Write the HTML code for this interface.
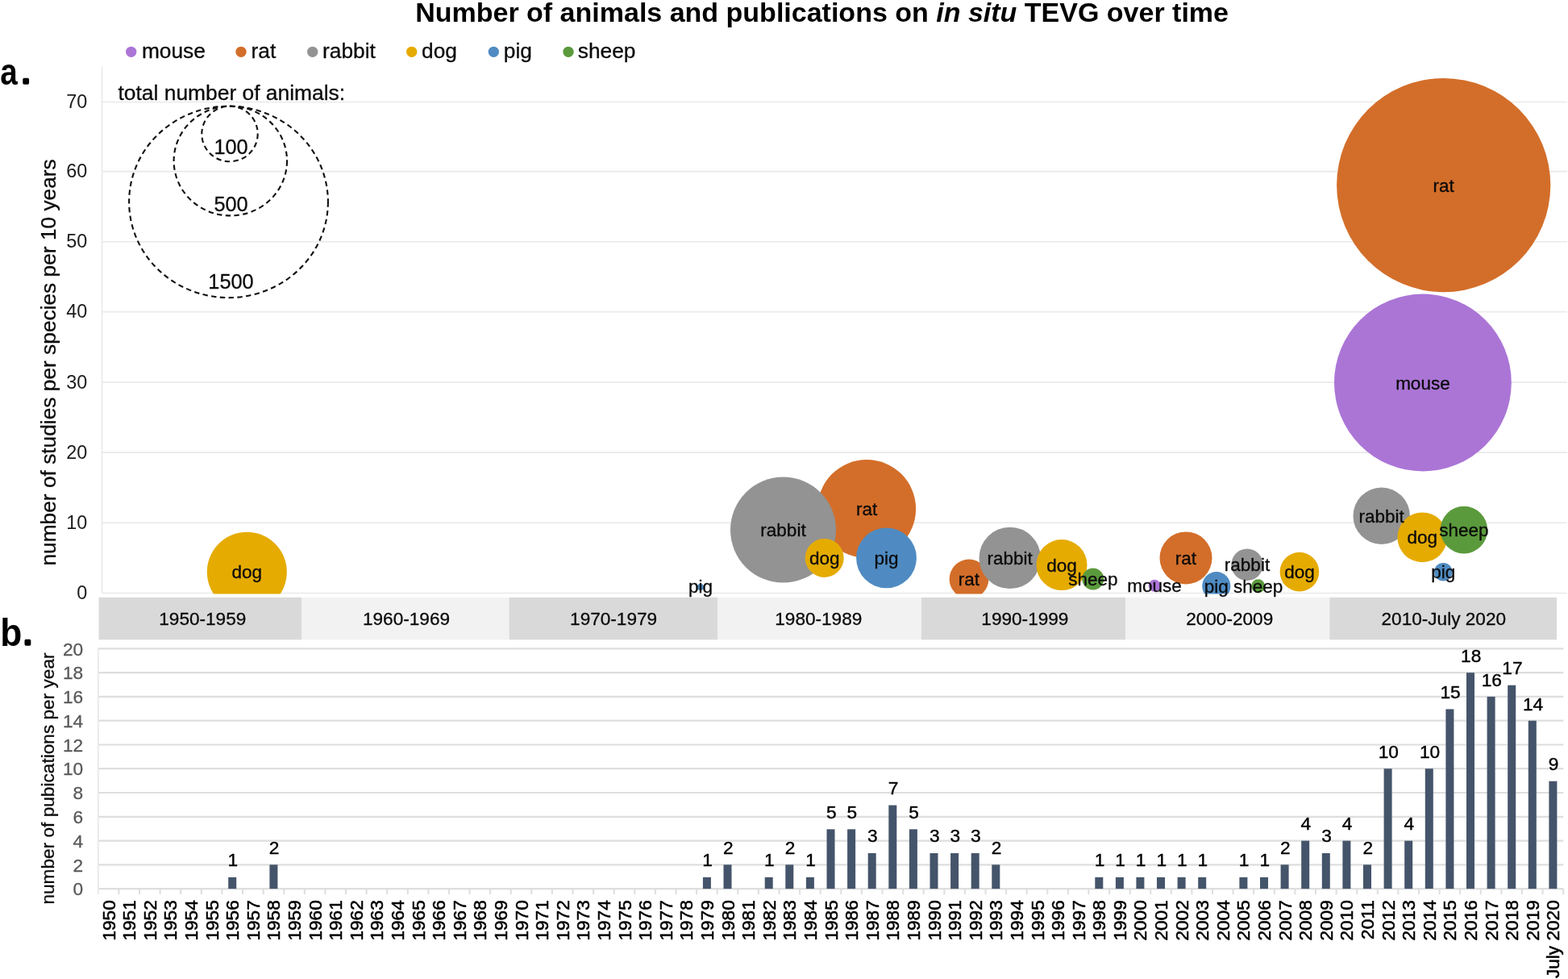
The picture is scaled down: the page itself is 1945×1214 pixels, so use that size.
<!DOCTYPE html>
<html lang="en"><head><meta charset="utf-8"><title>Number of animals and publications on in situ TEVG over time</title>
<style>html,body{margin:0;padding:0;background:#fff}body{width:1945px;height:1214px;overflow:hidden}svg{display:block}</style>
</head><body>
<svg width="1945" height="1214" viewBox="0 0 1945 1214" font-family='"Liberation Sans", Arial, Helvetica, sans-serif'>
<style>text{stroke-width:0.3px;stroke-linejoin:round}.k{fill:#0a0a0a;stroke:#0a0a0a}.t{fill:#1c1c1c;stroke:none}.y{fill:#000;stroke:#000;stroke-width:0.55px}.d{fill:#000;stroke:#000;stroke-width:0.4px}.g{fill:#595959;stroke:#595959;stroke-width:0.3px}.b{fill:#000;stroke:none}</style>
<rect width="1945" height="1214" fill="#fff"/>
<defs><clipPath id="pc"><rect x="120" y="60" width="1825" height="676.5"/></clipPath></defs>
<text x="1019.6" y="27.3" font-size="34" font-weight="bold" text-anchor="middle" class="b">Number of animals and publications on <tspan font-style="italic">in situ</tspan> TEVG over time</text>
<circle cx="162.7" cy="64.3" r="6.65" fill="#AB75D6"/>
<text x="175.9" y="72" font-size="26.3" class="k">mouse</text>
<circle cx="299" cy="64.3" r="6.65" fill="#D36E2A"/>
<text x="311.5" y="72" font-size="26.3" class="k">rat</text>
<circle cx="387.7" cy="64.3" r="6.65" fill="#939393"/>
<text x="400" y="72" font-size="26.3" class="k">rabbit</text>
<circle cx="510.7" cy="64.3" r="6.65" fill="#E5AB00"/>
<text x="523" y="72" font-size="26.3" class="k">dog</text>
<circle cx="612.3" cy="64.3" r="6.65" fill="#4F8BC2"/>
<text x="624.8" y="72" font-size="26.3" class="k">pig</text>
<circle cx="705" cy="64.3" r="6.65" fill="#5B9A3C"/>
<text x="716.8" y="72" font-size="26.3" class="k">sheep</text>
<text x="0.3" y="104.6" font-size="46" font-weight="bold" class="b"><tspan textLength="21.48" lengthAdjust="spacingAndGlyphs">a</tspan><tspan x="28.1" y="103.3" font-size="30" style="fill:#000;stroke:#000;stroke-width:3.6px">.</tspan></text>
<text x="0.3" y="800.6" font-size="47.5" font-weight="bold" class="b"><tspan textLength="26.99" lengthAdjust="spacingAndGlyphs">b</tspan><tspan x="30.3" y="799.3" font-size="30" style="fill:#000;stroke:#000;stroke-width:3.6px">.</tspan></text>
<line x1="126.5" x2="1943.8" y1="735.50" y2="735.50" stroke="#E9E9E9" stroke-width="1.6"/>
<text x="108.3" y="743.0" font-size="23.4" text-anchor="end" class="t">0</text>
<line x1="126.5" x2="1943.8" y1="648.30" y2="648.30" stroke="#E9E9E9" stroke-width="1.6"/>
<text x="108.3" y="655.8" font-size="23.4" text-anchor="end" class="t">10</text>
<line x1="126.5" x2="1943.8" y1="561.10" y2="561.10" stroke="#E9E9E9" stroke-width="1.6"/>
<text x="108.3" y="568.6" font-size="23.4" text-anchor="end" class="t">20</text>
<line x1="126.5" x2="1943.8" y1="474.10" y2="474.10" stroke="#E9E9E9" stroke-width="1.6"/>
<text x="108.3" y="481.6" font-size="23.4" text-anchor="end" class="t">30</text>
<line x1="126.5" x2="1943.8" y1="386.80" y2="386.80" stroke="#E9E9E9" stroke-width="1.6"/>
<text x="108.3" y="394.3" font-size="23.4" text-anchor="end" class="t">40</text>
<line x1="126.5" x2="1943.8" y1="299.80" y2="299.80" stroke="#E9E9E9" stroke-width="1.6"/>
<text x="108.3" y="307.3" font-size="23.4" text-anchor="end" class="t">50</text>
<line x1="126.5" x2="1943.8" y1="212.60" y2="212.60" stroke="#E9E9E9" stroke-width="1.6"/>
<text x="108.3" y="220.1" font-size="23.4" text-anchor="end" class="t">60</text>
<line x1="126.5" x2="1943.8" y1="126.45" y2="126.45" stroke="#E9E9E9" stroke-width="1.6"/>
<text x="108.3" y="133.9" font-size="23.4" text-anchor="end" class="t">70</text>
<line x1="126.5" x2="126.5" y1="83" y2="735.4" stroke="#E9E9E9" stroke-width="1.6"/>
<text transform="translate(69.3,449.4) rotate(-90)" font-size="26.3" text-anchor="middle" class="k">number of studies per species per 10 years</text>
<text x="146.5" y="123.8" font-size="26.4" class="k">total number of animals:</text>
<ellipse cx="285" cy="166" rx="34.7" ry="34.3" fill="none" stroke="#111" stroke-width="2.1" stroke-dasharray="6.4 4.4"/>
<ellipse cx="285.8" cy="199.5" rx="70.2" ry="67.9" fill="none" stroke="#111" stroke-width="2.1" stroke-dasharray="6.4 4.4"/>
<ellipse cx="283.5" cy="250.4" rx="123.4" ry="118.7" fill="none" stroke="#111" stroke-width="2.1" stroke-dasharray="6.4 4.4"/>
<text x="286.5" y="190.5" font-size="25.3" text-anchor="middle" class="k">100</text>
<text x="286.5" y="261.8" font-size="25.3" text-anchor="middle" class="k">500</text>
<text x="286.5" y="358" font-size="25.3" text-anchor="middle" class="k">1500</text>
<g clip-path="url(#pc)">
<circle cx="1075.1" cy="631.0" r="61" fill="#D36E2A"/>
<circle cx="1202.0" cy="718.0" r="24.4" fill="#D36E2A"/>
<circle cx="1471.0" cy="691.9" r="32.5" fill="#D36E2A"/>
<circle cx="1790.7" cy="229.6" r="132.6" fill="#D36E2A"/>
<circle cx="1432.1" cy="726.3" r="7.5" fill="#AB75D6"/>
<circle cx="1764.9" cy="474.5" r="109.9" fill="#AB75D6"/>
<circle cx="971.5" cy="657.1" r="65.5" fill="#939393"/>
<circle cx="1252.7" cy="691.9" r="38.2" fill="#939393"/>
<circle cx="1547" cy="700.3" r="19.7" fill="#939393"/>
<circle cx="1713.7" cy="639.7" r="35.2" fill="#939393"/>
<circle cx="306.3" cy="709.3" r="49.5" fill="#E5AB00"/>
<circle cx="1022.7" cy="691.9" r="24" fill="#E5AB00"/>
<circle cx="1317.0" cy="700.6" r="31.5" fill="#E5AB00"/>
<circle cx="1611.9" cy="709.1" r="24.3" fill="#E5AB00"/>
<circle cx="1764.3" cy="666.3" r="30.9" fill="#E5AB00"/>
<circle cx="868.9" cy="728.1" r="4.1" fill="#4F8BC2"/>
<circle cx="1099.5" cy="691.9" r="37.4" fill="#4F8BC2"/>
<circle cx="1508.8" cy="726.7" r="17.6" fill="#4F8BC2"/>
<circle cx="1790.3" cy="709.3" r="11.3" fill="#4F8BC2"/>
<circle cx="1355.8" cy="718.0" r="13.5" fill="#5B9A3C"/>
<circle cx="1560.6" cy="726.7" r="8.5" fill="#5B9A3C"/>
<circle cx="1815.9" cy="657.1" r="29.3" fill="#5B9A3C"/>
</g>
<text x="1075.1" y="639.0" font-size="22.5" text-anchor="middle" class="k">rat</text>
<text x="1202.0" y="726.0" font-size="22.5" text-anchor="middle" class="k">rat</text>
<text x="1471.0" y="699.9" font-size="22.5" text-anchor="middle" class="k">rat</text>
<text x="1790.7" y="237.6" font-size="22.5" text-anchor="middle" class="k">rat</text>
<text x="1432.1" y="734.3" font-size="22.5" text-anchor="middle" class="k">mouse</text>
<text x="1764.9" y="482.5" font-size="22.5" text-anchor="middle" class="k">mouse</text>
<text x="971.5" y="665.1" font-size="22.5" text-anchor="middle" class="k">rabbit</text>
<text x="1252.7" y="699.9" font-size="22.5" text-anchor="middle" class="k">rabbit</text>
<text x="1547" y="708.3" font-size="22.5" text-anchor="middle" class="k">rabbit</text>
<text x="1713.7" y="647.7" font-size="22.5" text-anchor="middle" class="k">rabbit</text>
<text x="306.3" y="717.3" font-size="22.5" text-anchor="middle" class="k">dog</text>
<text x="1022.7" y="699.9" font-size="22.5" text-anchor="middle" class="k">dog</text>
<text x="1317.0" y="708.6" font-size="22.5" text-anchor="middle" class="k">dog</text>
<text x="1611.9" y="717.1" font-size="22.5" text-anchor="middle" class="k">dog</text>
<text x="1764.3" y="674.3" font-size="22.5" text-anchor="middle" class="k">dog</text>
<text x="868.9" y="734.7" font-size="22.5" text-anchor="middle" class="k">pig</text>
<text x="1099.5" y="699.9" font-size="22.5" text-anchor="middle" class="k">pig</text>
<text x="1508.8" y="734.7" font-size="22.5" text-anchor="middle" class="k">pig</text>
<text x="1790.3" y="717.3" font-size="22.5" text-anchor="middle" class="k">pig</text>
<text x="1355.8" y="726.0" font-size="22.5" text-anchor="middle" class="k">sheep</text>
<text x="1560.6" y="734.7" font-size="22.5" text-anchor="middle" class="k">sheep</text>
<text x="1815.9" y="665.1" font-size="22.5" text-anchor="middle" class="k">sheep</text>
<rect x="122.6" y="740.8" width="251.4" height="52.5" fill="#D9D9D9"/>
<text x="251.3" y="775" font-size="22.6" text-anchor="middle" class="k">1950-1959</text>
<rect x="374" y="740.8" width="257.5" height="52.5" fill="#F2F2F2"/>
<text x="504.0" y="775" font-size="22.6" text-anchor="middle" class="k">1960-1969</text>
<rect x="631.5" y="740.8" width="258.5" height="52.5" fill="#D9D9D9"/>
<text x="761.1" y="775" font-size="22.6" text-anchor="middle" class="k">1970-1979</text>
<rect x="890" y="740.8" width="253" height="52.5" fill="#F2F2F2"/>
<text x="1015.3" y="775" font-size="22.6" text-anchor="middle" class="k">1980-1989</text>
<rect x="1143" y="740.8" width="253" height="52.5" fill="#D9D9D9"/>
<text x="1271.4" y="775" font-size="22.6" text-anchor="middle" class="k">1990-1999</text>
<rect x="1396" y="740.8" width="253.29999999999995" height="52.5" fill="#F2F2F2"/>
<text x="1525.2" y="775" font-size="22.6" text-anchor="middle" class="k">2000-2009</text>
<rect x="1649.3" y="740.8" width="281.70000000000005" height="52.5" fill="#D9D9D9"/>
<text x="1790.8" y="775" font-size="22.6" text-anchor="middle" class="k">2010-July 2020</text>
<line x1="121.8" x2="1939.2" y1="1102.1" y2="1102.1" stroke="#DEDEDE" stroke-width="2.2"/>
<text x="103.2" y="1110.3" font-size="22.7" text-anchor="end" class="g">0</text>
<line x1="121.8" x2="1939.2" y1="1072.3" y2="1072.3" stroke="#DEDEDE" stroke-width="2.2"/>
<text x="103.2" y="1080.5" font-size="22.7" text-anchor="end" class="g">2</text>
<line x1="121.8" x2="1939.2" y1="1042.6" y2="1042.6" stroke="#DEDEDE" stroke-width="2.2"/>
<text x="103.2" y="1050.8" font-size="22.7" text-anchor="end" class="g">4</text>
<line x1="121.8" x2="1939.2" y1="1012.8" y2="1012.8" stroke="#DEDEDE" stroke-width="2.2"/>
<text x="103.2" y="1021.0" font-size="22.7" text-anchor="end" class="g">6</text>
<line x1="121.8" x2="1939.2" y1="983.0" y2="983.0" stroke="#DEDEDE" stroke-width="2.2"/>
<text x="103.2" y="991.2" font-size="22.7" text-anchor="end" class="g">8</text>
<line x1="121.8" x2="1939.2" y1="953.2" y2="953.2" stroke="#DEDEDE" stroke-width="2.2"/>
<text x="103.2" y="961.4" font-size="22.7" text-anchor="end" class="g">10</text>
<line x1="121.8" x2="1939.2" y1="923.5" y2="923.5" stroke="#DEDEDE" stroke-width="2.2"/>
<text x="103.2" y="931.7" font-size="22.7" text-anchor="end" class="g">12</text>
<line x1="121.8" x2="1939.2" y1="893.7" y2="893.7" stroke="#DEDEDE" stroke-width="2.2"/>
<text x="103.2" y="901.9" font-size="22.7" text-anchor="end" class="g">14</text>
<line x1="121.8" x2="1939.2" y1="863.9" y2="863.9" stroke="#DEDEDE" stroke-width="2.2"/>
<text x="103.2" y="872.1" font-size="22.7" text-anchor="end" class="g">16</text>
<line x1="121.8" x2="1939.2" y1="834.2" y2="834.2" stroke="#DEDEDE" stroke-width="2.2"/>
<text x="103.2" y="842.4" font-size="22.7" text-anchor="end" class="g">18</text>
<line x1="121.8" x2="1939.2" y1="804.4" y2="804.4" stroke="#DEDEDE" stroke-width="2.2"/>
<text x="103.2" y="812.6" font-size="22.7" text-anchor="end" class="g">20</text>
<line x1="121.8" x2="121.8" y1="803.4" y2="1109.1" stroke="#E9E9E9" stroke-width="1.8"/>
<line x1="147.4" x2="147.4" y1="1102.1" y2="1109.1" stroke="#DEDEDE" stroke-width="2"/>
<line x1="173.0" x2="173.0" y1="1102.1" y2="1109.1" stroke="#DEDEDE" stroke-width="2"/>
<line x1="198.6" x2="198.6" y1="1102.1" y2="1109.1" stroke="#DEDEDE" stroke-width="2"/>
<line x1="224.2" x2="224.2" y1="1102.1" y2="1109.1" stroke="#DEDEDE" stroke-width="2"/>
<line x1="249.8" x2="249.8" y1="1102.1" y2="1109.1" stroke="#DEDEDE" stroke-width="2"/>
<line x1="275.4" x2="275.4" y1="1102.1" y2="1109.1" stroke="#DEDEDE" stroke-width="2"/>
<line x1="301.0" x2="301.0" y1="1102.1" y2="1109.1" stroke="#DEDEDE" stroke-width="2"/>
<line x1="326.6" x2="326.6" y1="1102.1" y2="1109.1" stroke="#DEDEDE" stroke-width="2"/>
<line x1="352.2" x2="352.2" y1="1102.1" y2="1109.1" stroke="#DEDEDE" stroke-width="2"/>
<line x1="377.8" x2="377.8" y1="1102.1" y2="1109.1" stroke="#DEDEDE" stroke-width="2"/>
<line x1="403.4" x2="403.4" y1="1102.1" y2="1109.1" stroke="#DEDEDE" stroke-width="2"/>
<line x1="429.0" x2="429.0" y1="1102.1" y2="1109.1" stroke="#DEDEDE" stroke-width="2"/>
<line x1="454.6" x2="454.6" y1="1102.1" y2="1109.1" stroke="#DEDEDE" stroke-width="2"/>
<line x1="480.2" x2="480.2" y1="1102.1" y2="1109.1" stroke="#DEDEDE" stroke-width="2"/>
<line x1="505.8" x2="505.8" y1="1102.1" y2="1109.1" stroke="#DEDEDE" stroke-width="2"/>
<line x1="531.4" x2="531.4" y1="1102.1" y2="1109.1" stroke="#DEDEDE" stroke-width="2"/>
<line x1="556.9" x2="556.9" y1="1102.1" y2="1109.1" stroke="#DEDEDE" stroke-width="2"/>
<line x1="582.5" x2="582.5" y1="1102.1" y2="1109.1" stroke="#DEDEDE" stroke-width="2"/>
<line x1="608.1" x2="608.1" y1="1102.1" y2="1109.1" stroke="#DEDEDE" stroke-width="2"/>
<line x1="633.7" x2="633.7" y1="1102.1" y2="1109.1" stroke="#DEDEDE" stroke-width="2"/>
<line x1="659.3" x2="659.3" y1="1102.1" y2="1109.1" stroke="#DEDEDE" stroke-width="2"/>
<line x1="684.9" x2="684.9" y1="1102.1" y2="1109.1" stroke="#DEDEDE" stroke-width="2"/>
<line x1="710.5" x2="710.5" y1="1102.1" y2="1109.1" stroke="#DEDEDE" stroke-width="2"/>
<line x1="736.1" x2="736.1" y1="1102.1" y2="1109.1" stroke="#DEDEDE" stroke-width="2"/>
<line x1="761.7" x2="761.7" y1="1102.1" y2="1109.1" stroke="#DEDEDE" stroke-width="2"/>
<line x1="787.3" x2="787.3" y1="1102.1" y2="1109.1" stroke="#DEDEDE" stroke-width="2"/>
<line x1="812.9" x2="812.9" y1="1102.1" y2="1109.1" stroke="#DEDEDE" stroke-width="2"/>
<line x1="838.5" x2="838.5" y1="1102.1" y2="1109.1" stroke="#DEDEDE" stroke-width="2"/>
<line x1="864.1" x2="864.1" y1="1102.1" y2="1109.1" stroke="#DEDEDE" stroke-width="2"/>
<line x1="889.7" x2="889.7" y1="1102.1" y2="1109.1" stroke="#DEDEDE" stroke-width="2"/>
<line x1="915.3" x2="915.3" y1="1102.1" y2="1109.1" stroke="#DEDEDE" stroke-width="2"/>
<line x1="940.9" x2="940.9" y1="1102.1" y2="1109.1" stroke="#DEDEDE" stroke-width="2"/>
<line x1="966.5" x2="966.5" y1="1102.1" y2="1109.1" stroke="#DEDEDE" stroke-width="2"/>
<line x1="992.1" x2="992.1" y1="1102.1" y2="1109.1" stroke="#DEDEDE" stroke-width="2"/>
<line x1="1017.7" x2="1017.7" y1="1102.1" y2="1109.1" stroke="#DEDEDE" stroke-width="2"/>
<line x1="1043.3" x2="1043.3" y1="1102.1" y2="1109.1" stroke="#DEDEDE" stroke-width="2"/>
<line x1="1068.9" x2="1068.9" y1="1102.1" y2="1109.1" stroke="#DEDEDE" stroke-width="2"/>
<line x1="1094.5" x2="1094.5" y1="1102.1" y2="1109.1" stroke="#DEDEDE" stroke-width="2"/>
<line x1="1120.1" x2="1120.1" y1="1102.1" y2="1109.1" stroke="#DEDEDE" stroke-width="2"/>
<line x1="1145.7" x2="1145.7" y1="1102.1" y2="1109.1" stroke="#DEDEDE" stroke-width="2"/>
<line x1="1171.3" x2="1171.3" y1="1102.1" y2="1109.1" stroke="#DEDEDE" stroke-width="2"/>
<line x1="1196.9" x2="1196.9" y1="1102.1" y2="1109.1" stroke="#DEDEDE" stroke-width="2"/>
<line x1="1222.5" x2="1222.5" y1="1102.1" y2="1109.1" stroke="#DEDEDE" stroke-width="2"/>
<line x1="1248.1" x2="1248.1" y1="1102.1" y2="1109.1" stroke="#DEDEDE" stroke-width="2"/>
<line x1="1273.7" x2="1273.7" y1="1102.1" y2="1109.1" stroke="#DEDEDE" stroke-width="2"/>
<line x1="1299.3" x2="1299.3" y1="1102.1" y2="1109.1" stroke="#DEDEDE" stroke-width="2"/>
<line x1="1324.9" x2="1324.9" y1="1102.1" y2="1109.1" stroke="#DEDEDE" stroke-width="2"/>
<line x1="1350.5" x2="1350.5" y1="1102.1" y2="1109.1" stroke="#DEDEDE" stroke-width="2"/>
<line x1="1376.1" x2="1376.1" y1="1102.1" y2="1109.1" stroke="#DEDEDE" stroke-width="2"/>
<line x1="1401.7" x2="1401.7" y1="1102.1" y2="1109.1" stroke="#DEDEDE" stroke-width="2"/>
<line x1="1427.2" x2="1427.2" y1="1102.1" y2="1109.1" stroke="#DEDEDE" stroke-width="2"/>
<line x1="1452.8" x2="1452.8" y1="1102.1" y2="1109.1" stroke="#DEDEDE" stroke-width="2"/>
<line x1="1478.4" x2="1478.4" y1="1102.1" y2="1109.1" stroke="#DEDEDE" stroke-width="2"/>
<line x1="1504.0" x2="1504.0" y1="1102.1" y2="1109.1" stroke="#DEDEDE" stroke-width="2"/>
<line x1="1529.6" x2="1529.6" y1="1102.1" y2="1109.1" stroke="#DEDEDE" stroke-width="2"/>
<line x1="1555.2" x2="1555.2" y1="1102.1" y2="1109.1" stroke="#DEDEDE" stroke-width="2"/>
<line x1="1580.8" x2="1580.8" y1="1102.1" y2="1109.1" stroke="#DEDEDE" stroke-width="2"/>
<line x1="1606.4" x2="1606.4" y1="1102.1" y2="1109.1" stroke="#DEDEDE" stroke-width="2"/>
<line x1="1632.0" x2="1632.0" y1="1102.1" y2="1109.1" stroke="#DEDEDE" stroke-width="2"/>
<line x1="1657.6" x2="1657.6" y1="1102.1" y2="1109.1" stroke="#DEDEDE" stroke-width="2"/>
<line x1="1683.2" x2="1683.2" y1="1102.1" y2="1109.1" stroke="#DEDEDE" stroke-width="2"/>
<line x1="1708.8" x2="1708.8" y1="1102.1" y2="1109.1" stroke="#DEDEDE" stroke-width="2"/>
<line x1="1734.4" x2="1734.4" y1="1102.1" y2="1109.1" stroke="#DEDEDE" stroke-width="2"/>
<line x1="1760.0" x2="1760.0" y1="1102.1" y2="1109.1" stroke="#DEDEDE" stroke-width="2"/>
<line x1="1785.6" x2="1785.6" y1="1102.1" y2="1109.1" stroke="#DEDEDE" stroke-width="2"/>
<line x1="1811.2" x2="1811.2" y1="1102.1" y2="1109.1" stroke="#DEDEDE" stroke-width="2"/>
<line x1="1836.8" x2="1836.8" y1="1102.1" y2="1109.1" stroke="#DEDEDE" stroke-width="2"/>
<line x1="1862.4" x2="1862.4" y1="1102.1" y2="1109.1" stroke="#DEDEDE" stroke-width="2"/>
<line x1="1888.0" x2="1888.0" y1="1102.1" y2="1109.1" stroke="#DEDEDE" stroke-width="2"/>
<line x1="1913.6" x2="1913.6" y1="1102.1" y2="1109.1" stroke="#DEDEDE" stroke-width="2"/>
<line x1="1939.2" x2="1939.2" y1="1102.1" y2="1109.1" stroke="#DEDEDE" stroke-width="2"/>
<text transform="translate(67.3,965.5) rotate(-90)" font-size="22.65" text-anchor="middle" class="k">number of pubications per year</text>
<text transform="translate(142.6,1116.3) rotate(-90)" font-size="22.6" text-anchor="end" class="y">1950</text>
<text transform="translate(168.2,1116.3) rotate(-90)" font-size="22.6" text-anchor="end" class="y">1951</text>
<text transform="translate(193.8,1116.3) rotate(-90)" font-size="22.6" text-anchor="end" class="y">1952</text>
<text transform="translate(219.4,1116.3) rotate(-90)" font-size="22.6" text-anchor="end" class="y">1953</text>
<text transform="translate(245.0,1116.3) rotate(-90)" font-size="22.6" text-anchor="end" class="y">1954</text>
<text transform="translate(270.6,1116.3) rotate(-90)" font-size="22.6" text-anchor="end" class="y">1955</text>
<text transform="translate(296.2,1116.3) rotate(-90)" font-size="22.6" text-anchor="end" class="y">1956</text>
<rect x="283.2" y="1087.8" width="10" height="14.3" fill="#44546A"/>
<text x="288.9" y="1074.0" font-size="22.7" text-anchor="middle" class="d">1</text>
<text transform="translate(321.8,1116.3) rotate(-90)" font-size="22.6" text-anchor="end" class="y">1957</text>
<text transform="translate(347.4,1116.3) rotate(-90)" font-size="22.6" text-anchor="end" class="y">1958</text>
<rect x="334.4" y="1072.3" width="10" height="29.8" fill="#44546A"/>
<text x="340.1" y="1059.1" font-size="22.7" text-anchor="middle" class="d">2</text>
<text transform="translate(373.0,1116.3) rotate(-90)" font-size="22.6" text-anchor="end" class="y">1959</text>
<text transform="translate(398.6,1116.3) rotate(-90)" font-size="22.6" text-anchor="end" class="y">1960</text>
<text transform="translate(424.2,1116.3) rotate(-90)" font-size="22.6" text-anchor="end" class="y">1961</text>
<text transform="translate(449.8,1116.3) rotate(-90)" font-size="22.6" text-anchor="end" class="y">1962</text>
<text transform="translate(475.4,1116.3) rotate(-90)" font-size="22.6" text-anchor="end" class="y">1963</text>
<text transform="translate(501.0,1116.3) rotate(-90)" font-size="22.6" text-anchor="end" class="y">1964</text>
<text transform="translate(526.6,1116.3) rotate(-90)" font-size="22.6" text-anchor="end" class="y">1965</text>
<text transform="translate(552.2,1116.3) rotate(-90)" font-size="22.6" text-anchor="end" class="y">1966</text>
<text transform="translate(577.7,1116.3) rotate(-90)" font-size="22.6" text-anchor="end" class="y">1967</text>
<text transform="translate(603.3,1116.3) rotate(-90)" font-size="22.6" text-anchor="end" class="y">1968</text>
<text transform="translate(628.9,1116.3) rotate(-90)" font-size="22.6" text-anchor="end" class="y">1969</text>
<text transform="translate(654.5,1116.3) rotate(-90)" font-size="22.6" text-anchor="end" class="y">1970</text>
<text transform="translate(680.1,1116.3) rotate(-90)" font-size="22.6" text-anchor="end" class="y">1971</text>
<text transform="translate(705.7,1116.3) rotate(-90)" font-size="22.6" text-anchor="end" class="y">1972</text>
<text transform="translate(731.3,1116.3) rotate(-90)" font-size="22.6" text-anchor="end" class="y">1973</text>
<text transform="translate(756.9,1116.3) rotate(-90)" font-size="22.6" text-anchor="end" class="y">1974</text>
<text transform="translate(782.5,1116.3) rotate(-90)" font-size="22.6" text-anchor="end" class="y">1975</text>
<text transform="translate(808.1,1116.3) rotate(-90)" font-size="22.6" text-anchor="end" class="y">1976</text>
<text transform="translate(833.7,1116.3) rotate(-90)" font-size="22.6" text-anchor="end" class="y">1977</text>
<text transform="translate(859.3,1116.3) rotate(-90)" font-size="22.6" text-anchor="end" class="y">1978</text>
<text transform="translate(884.9,1116.3) rotate(-90)" font-size="22.6" text-anchor="end" class="y">1979</text>
<rect x="871.9" y="1087.8" width="10" height="14.3" fill="#44546A"/>
<text x="877.6" y="1074.0" font-size="22.7" text-anchor="middle" class="d">1</text>
<text transform="translate(910.5,1116.3) rotate(-90)" font-size="22.6" text-anchor="end" class="y">1980</text>
<rect x="897.5" y="1072.3" width="10" height="29.8" fill="#44546A"/>
<text x="903.2" y="1059.1" font-size="22.7" text-anchor="middle" class="d">2</text>
<text transform="translate(936.1,1116.3) rotate(-90)" font-size="22.6" text-anchor="end" class="y">1981</text>
<text transform="translate(961.7,1116.3) rotate(-90)" font-size="22.6" text-anchor="end" class="y">1982</text>
<rect x="948.7" y="1087.8" width="10" height="14.3" fill="#44546A"/>
<text x="954.4" y="1074.0" font-size="22.7" text-anchor="middle" class="d">1</text>
<text transform="translate(987.3,1116.3) rotate(-90)" font-size="22.6" text-anchor="end" class="y">1983</text>
<rect x="974.3" y="1072.3" width="10" height="29.8" fill="#44546A"/>
<text x="980.0" y="1059.1" font-size="22.7" text-anchor="middle" class="d">2</text>
<text transform="translate(1012.9,1116.3) rotate(-90)" font-size="22.6" text-anchor="end" class="y">1984</text>
<rect x="999.9" y="1087.8" width="10" height="14.3" fill="#44546A"/>
<text x="1005.6" y="1074.0" font-size="22.7" text-anchor="middle" class="d">1</text>
<text transform="translate(1038.5,1116.3) rotate(-90)" font-size="22.6" text-anchor="end" class="y">1985</text>
<rect x="1025.5" y="1028.3" width="10" height="73.8" fill="#44546A"/>
<text x="1031.2" y="1014.5" font-size="22.7" text-anchor="middle" class="d">5</text>
<text transform="translate(1064.1,1116.3) rotate(-90)" font-size="22.6" text-anchor="end" class="y">1986</text>
<rect x="1051.1" y="1028.3" width="10" height="73.8" fill="#44546A"/>
<text x="1056.8" y="1014.5" font-size="22.7" text-anchor="middle" class="d">5</text>
<text transform="translate(1089.7,1116.3) rotate(-90)" font-size="22.6" text-anchor="end" class="y">1987</text>
<rect x="1076.7" y="1058.0" width="10" height="44.1" fill="#44546A"/>
<text x="1082.4" y="1044.2" font-size="22.7" text-anchor="middle" class="d">3</text>
<text transform="translate(1115.3,1116.3) rotate(-90)" font-size="22.6" text-anchor="end" class="y">1988</text>
<rect x="1102.3" y="998.5" width="10" height="103.6" fill="#44546A"/>
<text x="1108.0" y="984.7" font-size="22.7" text-anchor="middle" class="d">7</text>
<text transform="translate(1140.9,1116.3) rotate(-90)" font-size="22.6" text-anchor="end" class="y">1989</text>
<rect x="1127.9" y="1028.3" width="10" height="73.8" fill="#44546A"/>
<text x="1133.6" y="1014.5" font-size="22.7" text-anchor="middle" class="d">5</text>
<text transform="translate(1166.5,1116.3) rotate(-90)" font-size="22.6" text-anchor="end" class="y">1990</text>
<rect x="1153.5" y="1058.0" width="10" height="44.1" fill="#44546A"/>
<text x="1159.2" y="1044.2" font-size="22.7" text-anchor="middle" class="d">3</text>
<text transform="translate(1192.1,1116.3) rotate(-90)" font-size="22.6" text-anchor="end" class="y">1991</text>
<rect x="1179.1" y="1058.0" width="10" height="44.1" fill="#44546A"/>
<text x="1184.8" y="1044.2" font-size="22.7" text-anchor="middle" class="d">3</text>
<text transform="translate(1217.7,1116.3) rotate(-90)" font-size="22.6" text-anchor="end" class="y">1992</text>
<rect x="1204.7" y="1058.0" width="10" height="44.1" fill="#44546A"/>
<text x="1210.4" y="1044.2" font-size="22.7" text-anchor="middle" class="d">3</text>
<text transform="translate(1243.3,1116.3) rotate(-90)" font-size="22.6" text-anchor="end" class="y">1993</text>
<rect x="1230.3" y="1072.3" width="10" height="29.8" fill="#44546A"/>
<text x="1236.0" y="1059.1" font-size="22.7" text-anchor="middle" class="d">2</text>
<text transform="translate(1268.9,1116.3) rotate(-90)" font-size="22.6" text-anchor="end" class="y">1994</text>
<text transform="translate(1294.5,1116.3) rotate(-90)" font-size="22.6" text-anchor="end" class="y">1995</text>
<text transform="translate(1320.1,1116.3) rotate(-90)" font-size="22.6" text-anchor="end" class="y">1996</text>
<text transform="translate(1345.7,1116.3) rotate(-90)" font-size="22.6" text-anchor="end" class="y">1997</text>
<text transform="translate(1371.3,1116.3) rotate(-90)" font-size="22.6" text-anchor="end" class="y">1998</text>
<rect x="1358.3" y="1087.8" width="10" height="14.3" fill="#44546A"/>
<text x="1364.0" y="1074.0" font-size="22.7" text-anchor="middle" class="d">1</text>
<text transform="translate(1396.9,1116.3) rotate(-90)" font-size="22.6" text-anchor="end" class="y">1999</text>
<rect x="1383.9" y="1087.8" width="10" height="14.3" fill="#44546A"/>
<text x="1389.6" y="1074.0" font-size="22.7" text-anchor="middle" class="d">1</text>
<text transform="translate(1422.4,1116.3) rotate(-90)" font-size="22.6" text-anchor="end" class="y">2000</text>
<rect x="1409.4" y="1087.8" width="10" height="14.3" fill="#44546A"/>
<text x="1415.1" y="1074.0" font-size="22.7" text-anchor="middle" class="d">1</text>
<text transform="translate(1448.0,1116.3) rotate(-90)" font-size="22.6" text-anchor="end" class="y">2001</text>
<rect x="1435.0" y="1087.8" width="10" height="14.3" fill="#44546A"/>
<text x="1440.7" y="1074.0" font-size="22.7" text-anchor="middle" class="d">1</text>
<text transform="translate(1473.6,1116.3) rotate(-90)" font-size="22.6" text-anchor="end" class="y">2002</text>
<rect x="1460.6" y="1087.8" width="10" height="14.3" fill="#44546A"/>
<text x="1466.3" y="1074.0" font-size="22.7" text-anchor="middle" class="d">1</text>
<text transform="translate(1499.2,1116.3) rotate(-90)" font-size="22.6" text-anchor="end" class="y">2003</text>
<rect x="1486.2" y="1087.8" width="10" height="14.3" fill="#44546A"/>
<text x="1491.9" y="1074.0" font-size="22.7" text-anchor="middle" class="d">1</text>
<text transform="translate(1524.8,1116.3) rotate(-90)" font-size="22.6" text-anchor="end" class="y">2004</text>
<text transform="translate(1550.4,1116.3) rotate(-90)" font-size="22.6" text-anchor="end" class="y">2005</text>
<rect x="1537.4" y="1087.8" width="10" height="14.3" fill="#44546A"/>
<text x="1543.1" y="1074.0" font-size="22.7" text-anchor="middle" class="d">1</text>
<text transform="translate(1576.0,1116.3) rotate(-90)" font-size="22.6" text-anchor="end" class="y">2006</text>
<rect x="1563.0" y="1087.8" width="10" height="14.3" fill="#44546A"/>
<text x="1568.7" y="1074.0" font-size="22.7" text-anchor="middle" class="d">1</text>
<text transform="translate(1601.6,1116.3) rotate(-90)" font-size="22.6" text-anchor="end" class="y">2007</text>
<rect x="1588.6" y="1072.3" width="10" height="29.8" fill="#44546A"/>
<text x="1594.3" y="1059.1" font-size="22.7" text-anchor="middle" class="d">2</text>
<text transform="translate(1627.2,1116.3) rotate(-90)" font-size="22.6" text-anchor="end" class="y">2008</text>
<rect x="1614.2" y="1042.6" width="10" height="59.5" fill="#44546A"/>
<text x="1619.9" y="1029.4" font-size="22.7" text-anchor="middle" class="d">4</text>
<text transform="translate(1652.8,1116.3) rotate(-90)" font-size="22.6" text-anchor="end" class="y">2009</text>
<rect x="1639.8" y="1058.0" width="10" height="44.1" fill="#44546A"/>
<text x="1645.5" y="1044.2" font-size="22.7" text-anchor="middle" class="d">3</text>
<text transform="translate(1678.4,1116.3) rotate(-90)" font-size="22.6" text-anchor="end" class="y">2010</text>
<rect x="1665.4" y="1042.6" width="10" height="59.5" fill="#44546A"/>
<text x="1671.1" y="1029.4" font-size="22.7" text-anchor="middle" class="d">4</text>
<text transform="translate(1704.0,1116.3) rotate(-90)" font-size="22.6" text-anchor="end" class="y">2011</text>
<rect x="1691.0" y="1072.3" width="10" height="29.8" fill="#44546A"/>
<text x="1696.7" y="1059.1" font-size="22.7" text-anchor="middle" class="d">2</text>
<text transform="translate(1729.6,1116.3) rotate(-90)" font-size="22.6" text-anchor="end" class="y">2012</text>
<rect x="1716.6" y="953.2" width="10" height="148.8" fill="#44546A"/>
<text x="1722.3" y="940.0" font-size="22.7" text-anchor="middle" class="d">10</text>
<text transform="translate(1755.2,1116.3) rotate(-90)" font-size="22.6" text-anchor="end" class="y">2013</text>
<rect x="1742.2" y="1042.6" width="10" height="59.5" fill="#44546A"/>
<text x="1747.9" y="1029.4" font-size="22.7" text-anchor="middle" class="d">4</text>
<text transform="translate(1780.8,1116.3) rotate(-90)" font-size="22.6" text-anchor="end" class="y">2014</text>
<rect x="1767.8" y="953.2" width="10" height="148.8" fill="#44546A"/>
<text x="1773.5" y="940.0" font-size="22.7" text-anchor="middle" class="d">10</text>
<text transform="translate(1806.4,1116.3) rotate(-90)" font-size="22.6" text-anchor="end" class="y">2015</text>
<rect x="1793.4" y="879.4" width="10" height="222.7" fill="#44546A"/>
<text x="1799.1" y="865.6" font-size="22.7" text-anchor="middle" class="d">15</text>
<text transform="translate(1832.0,1116.3) rotate(-90)" font-size="22.6" text-anchor="end" class="y">2016</text>
<rect x="1819.0" y="834.2" width="10" height="267.9" fill="#44546A"/>
<text x="1824.7" y="821.0" font-size="22.7" text-anchor="middle" class="d">18</text>
<text transform="translate(1857.6,1116.3) rotate(-90)" font-size="22.6" text-anchor="end" class="y">2017</text>
<rect x="1844.6" y="863.9" width="10" height="238.2" fill="#44546A"/>
<text x="1850.3" y="850.7" font-size="22.7" text-anchor="middle" class="d">16</text>
<text transform="translate(1883.2,1116.3) rotate(-90)" font-size="22.6" text-anchor="end" class="y">2018</text>
<rect x="1870.2" y="849.7" width="10" height="252.4" fill="#44546A"/>
<text x="1875.9" y="835.9" font-size="22.7" text-anchor="middle" class="d">17</text>
<text transform="translate(1908.8,1116.3) rotate(-90)" font-size="22.6" text-anchor="end" class="y">2019</text>
<rect x="1895.8" y="893.7" width="10" height="208.4" fill="#44546A"/>
<text x="1901.5" y="880.5" font-size="22.7" text-anchor="middle" class="d">14</text>
<text transform="translate(1934.4,1116.3) rotate(-90)" font-size="22.6" text-anchor="end" class="y">July 2020</text>
<rect x="1921.4" y="968.7" width="10" height="133.4" fill="#44546A"/>
<text x="1927.1" y="954.9" font-size="22.7" text-anchor="middle" class="d">9</text>
</svg>
</body></html>
